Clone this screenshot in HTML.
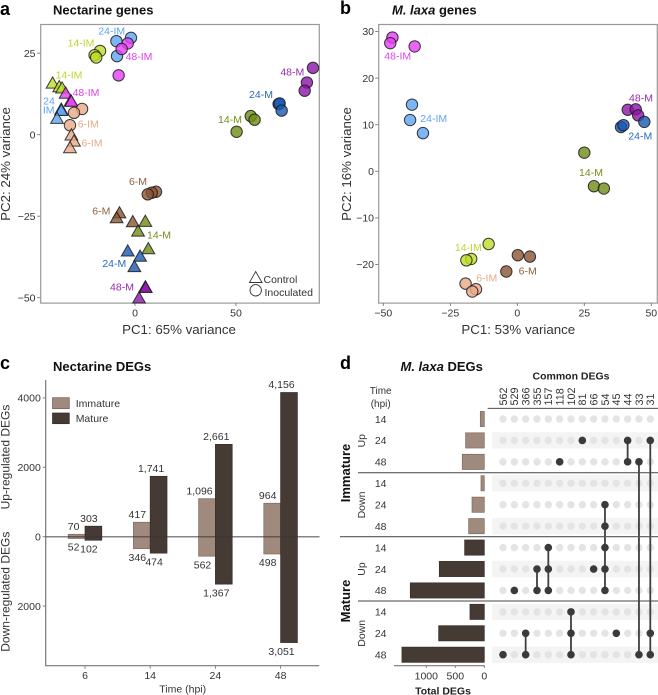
<!DOCTYPE html>
<html lang="en">
<head>
<meta charset="utf-8">
<title>Nectarine and M. laxa PCA and DEGs</title>
<style>
html,body{margin:0;padding:0;background:#fff;width:658px;height:695px;overflow:hidden}
svg{display:block;font-family:"Liberation Sans",Arial,sans-serif}
text{fill:#333;font-size:10.5px}
.c{text-anchor:middle}
.title{font-weight:bold;font-size:13px;fill:#111}
.letter{font-weight:bold;font-size:18px;fill:#000}
.axt{font-size:13.3px;text-anchor:middle;fill:#333}
</style>
</head>
<body>
<svg id="fig" xmlns="http://www.w3.org/2000/svg" width="658" height="695" viewBox="0 0 658 695">
  <text class="letter" x="0" y="15">a</text>
  <text class="letter" x="340" y="14">b</text>
  <text class="letter" x="0" y="369">c</text>
  <text class="letter" x="340" y="369">d</text>

  <text class="title" x="53" y="14.5">Nectarine genes</text>
  <text class="title" x="392" y="14.5"><tspan font-style="italic">M. laxa</tspan> genes</text>
  <text class="title" x="53" y="371">Nectarine DEGs</text>
  <text class="title" x="400.5" y="371"><tspan font-style="italic">M. laxa</tspan> DEGs</text>

  <rect x="40.7" y="24.5" width="278.6" height="278.6" fill="none" stroke="#999" stroke-width="1.2"/>
  <rect x="378.7" y="24.5" width="278.6" height="278.6" fill="none" stroke="#999" stroke-width="1.2"/>
  <g id="a"></g>
  <g id="b"></g>

  <text class="axt" x="179" y="334">PC1: 65% variance</text>
  <text class="axt" transform="translate(10,164) rotate(-90)">PC2: 24% variance</text>
  <text class="axt" x="518.3" y="334">PC1: 53% variance</text>
  <text class="axt" transform="translate(351,164) rotate(-90)">PC2: 16% variance</text>

  <g class="c">
    <text class="c" x="111.7" y="34.7" style="fill:#5ea3f5">24-IM</text>
    <text class="c" x="81" y="46.7" style="fill:#bcd82c">14-IM</text>
    <text class="c" x="139" y="60" style="fill:#e040f0">48-IM</text>
    <text class="c" x="69" y="78.4" style="fill:#bcd82c">14-IM</text>
    <text class="c" x="86" y="96" style="fill:#e040f0">48-IM</text>
    <text class="c" x="49" y="104.7" style="fill:#5ea3f5">24</text>
    <text class="c" x="48.7" y="113.7" style="fill:#5ea3f5">IM</text>
    <text class="c" x="88.3" y="127.4" style="fill:#e8a988">6-IM</text>
    <text class="c" x="92" y="146.7" style="fill:#e8a988">6-IM</text>
    <text class="c" x="230" y="123" style="fill:#73901a">14-M</text>
    <text class="c" x="261" y="98" style="fill:#2a68c0">24-M</text>
    <text class="c" x="292.3" y="75.7" style="fill:#9a28b4">48-M</text>
    <text class="c" x="138" y="185" style="fill:#93613f">6-M</text>
    <text class="c" x="101.3" y="214.4" style="fill:#93613f">6-M</text>
    <text class="c" x="159" y="238.7" style="fill:#73901a">14-M</text>
    <text class="c" x="114.3" y="267" style="fill:#2a68c0">24-M</text>
    <text class="c" x="122" y="290.4" style="fill:#9a28b4">48-M</text>
  </g>
  <g>
    <polygon points="255.7,271.5 249.5,282.5 262,282.5" fill="none" stroke="#333" stroke-width="0.9"/>
    <circle cx="255.7" cy="290.3" r="5.7" fill="none" stroke="#333" stroke-width="0.9"/>
    <text x="263.5" y="283">Control</text>
    <text x="264.5" y="296">Inoculated</text>
  </g>
  <g>
    <text class="c" x="397.7" y="59.7" style="fill:#e040f0">48-IM</text>
    <text class="c" x="433.7" y="122" style="fill:#5ea3f5">24-IM</text>
    <text class="c" x="641" y="101.7" style="fill:#9a28b4">48-M</text>
    <text class="c" x="640.3" y="139.7" style="fill:#2a68c0">24-M</text>
    <text class="c" x="591" y="176" style="fill:#73901a">14-M</text>
    <text class="c" x="468.3" y="251" style="fill:#bcd82c">14-IM</text>
    <text class="c" x="486.7" y="281.7" style="fill:#e8a988">6-IM</text>
    <text class="c" x="527.7" y="274.7" style="fill:#93613f">6-M</text>
  </g>

  <g id="c"></g>
  <g>
    <rect x="52.5" y="397.7" width="16.8" height="11" fill="#a08a7d" stroke="#6e5d52" stroke-width="0.7"/>
    <rect x="52.5" y="413" width="16.8" height="10.7" fill="#463b34" stroke="#332a25" stroke-width="0.7"/>
    <text x="75.7" y="407">Immature</text>
    <text x="75.7" y="422">Mature</text>
  </g>
  <text class="c" x="182.7" y="692.3">Time (hpi)</text>
  <text class="c" transform="translate(9.5,457) rotate(-90)" style="font-size:12px">Up-regulated DEGs</text>
  <text class="c" transform="translate(9.5,591.7) rotate(-90)" style="font-size:12px">Down-regulated DEGs</text>

  <g id="d"></g>
  <text class="c" x="571" y="379.5" style="font-weight:bold;font-size:10.5px;fill:#222">Common DEGs</text>
  <text class="c" x="380.7" y="394.2" style="font-size:10px">Time</text>
  <text class="c" x="380.7" y="406.8" style="font-size:10px">(hpi)</text>
  <text class="c" transform="translate(365.2,440.7) rotate(-90)">Up</text>
  <text class="c" transform="translate(365.2,505) rotate(-90)">Down</text>
  <text class="c" transform="translate(365.2,569) rotate(-90)">Up</text>
  <text class="c" transform="translate(365.2,633.3) rotate(-90)">Down</text>
  <text class="c" transform="translate(350,473) rotate(-90)" style="font-weight:bold;font-size:13px;fill:#111">Immature</text>
  <text class="c" transform="translate(350,601) rotate(-90)" style="font-weight:bold;font-size:13px;fill:#111">Mature</text>
  <text class="c" x="443" y="694.5" style="font-weight:bold;font-size:10.5px;fill:#222">Total DEGs</text>
</svg>

<script>
// ---- Panel a: nectarine PCA ----
const aGroups = ['24-IM','24-IM','24-IM','48-IM','48-IM','48-IM','14-IM','14-IM','14-IM','14-IM','14-IM','14-IM','48-IM','48-IM','48-IM','24-IM','24-IM','24-IM','6-IM','6-IM','6-IM','6-IM','6-IM','6-IM','14-M','14-M','14-M','24-M','24-M','24-M','48-M','48-M','48-M','6-M','6-M','6-M','6-M','6-M','6-M','14-M','14-M','14-M','24-M','24-M','24-M','48-M','48-M','48-M'];
const aTreatment = ['I','I','I','I','I','I','I','I','I','C','C','C','C','C','C','C','C','C','I','I','I','C','C','C','I','I','I','I','I','I','I','I','I','I','I','I','C','C','C','C','C','C','C','C','C','C','C','C'];
const aPC1 = [-9.2,-2,-8.9,-3.6,-6.6,-8.1,-17.3,-20,-19.2,-40.8,-37.5,-36.1,-34.3,-31.8,-31.5,-36.5,-36.5,-38.6,-26.2,-30.2,-32.2,-31.5,-30.2,-32.2,50.3,57.3,59.2,71.1,71.6,72.6,88.1,85.1,84,10.4,8.3,6.3,-7.7,-9.1,-1.1,5.1,1.5,6.6,-3.6,2.5,-0.3,5.1,5.3,2];
const aPC2 = [28.7,29.7,24.1,28,26.3,18.2,25.7,24.4,23.7,16,14.9,14.5,12.9,10.6,10.4,8,7.6,5.2,7.9,6.7,2.9,0.1,-1.8,-3.8,0.9,5.7,4.6,9.4,9.6,7.4,20.5,16,13.5,-17.5,-17.8,-18.3,-23.8,-25.3,-26.5,-26.4,-29.4,-34.8,-35.5,-37.1,-40.3,-46.5,-46.7,-49.9];
const aXTicks = [0,50];
const aYTicks = [25,0,-25,-50];

// ---- Panel b: M. laxa PCA ----
const bGroups = ['48-IM','48-IM','48-IM','24-IM','24-IM','24-IM','48-M','48-M','48-M','24-M','24-M','24-M','14-M','14-M','14-M','14-IM','14-IM','14-IM','6-M','6-M','6-M','6-IM','6-IM','6-IM'];
const bPC1 = [-46.6,-47.4,-38.3,-39.3,-40,-35.2,41.2,44.2,45.1,38.7,39.6,47.4,25,28.6,32.3,-10.7,-17.2,-19,0.2,4.7,-4.1,-19.3,-15.4,-16.8];
const bPC2 = [28.7,27.5,26.8,14.3,11,8.2,13.2,13.3,12,9.5,9.9,10.6,4,-3.2,-3.7,-15.6,-18.8,-19.1,-18,-18.3,-21.5,-24.1,-25.3,-25.8];
const bXTicks = [-50,-25,0,25,50];
const bYTicks = [30,20,10,0,-10,-20];

// ---- Panel c: nectarine DEG bars ----
const cTimes = ['6','14','24','48'];
const cImmatureUp = [70,417,1096,964];
const cMatureUp = [303,1741,2661,4156];
const cImmatureDown = [52,346,562,498];
const cMatureDown = [102,474,1367,3051];
const cYTicks = [4000,2000,0,-2000];

// ---- Panel d: M. laxa UpSet plot ----
const dRowTimes = ['14','24','48','14','24','48','14','24','48','14','24','48'];
const dRowTotals = [69,322,380,57,212,270,339,776,1276,247,787,1420];
const dCommon = [562,529,366,355,157,118,102,81,66,54,45,44,33,31];
const dSets = [[11],[8],[10,11],[7,8],[6,7,8],[2],[9,10,11],[1],[7],[4,5,6,7,8],[10],[1,2],[2,11],[1,10,11]];
const dTotalTicks = [1000,500,0];

const NS = 'http://www.w3.org/2000/svg';
const groupFill = {'24-IM':'#5ea3f5','48-IM':'#e33ff5','14-IM':'#bcdc28','6-IM':'#e8a988','6-M':'#8a5432','14-M':'#6f8c14','24-M':'#1858b0','48-M':'#8c14a8'};
function make(tag, attrs, parent){
  const n = document.createElementNS(NS, tag);
  for (const k in attrs) n.setAttribute(k, attrs[k]);
  parent.appendChild(n);
  return n;
}
function fmt(v){ return String(v).replace('-', '\u2212'); }
function groupSlug(s){ return s.toLowerCase(); }

function drawPca(root, prefix, groups, treatments, xs, ys, sx, sy, xTicks, yTicks, yLabelX, tickLeft){
  xTicks.forEach(function(t){
    const tk = make('line',{x1:sx(t),x2:sx(t),y1:303.1,y2:306,stroke:'#777','stroke-width':0.9},root);
    
    
    const lb = make('text',{x:sx(t),y:316.5,'text-anchor':'middle'},root);
    lb.textContent = fmt(t);
    
    
  });
  yTicks.forEach(function(t){
    const tk = make('line',{x1:tickLeft-3,x2:tickLeft,y1:sy(t),y2:sy(t),stroke:'#777','stroke-width':0.9},root);
    
    
    const lb = make('text',{x:yLabelX,y:sy(t)+3.7,'text-anchor':'end'},root);
    lb.textContent = fmt(t);
    
    
  });
  groups.forEach(function(g,i){
    const x = sx(xs[i]), y = sy(ys[i]);
    const style = {fill:groupFill[g],'fill-opacity':0.8,stroke:'#1a1a1a','stroke-opacity':0.85,'stroke-width':1};
    let m;
    if (treatments && treatments[i] === 'C') {
      style.points = x+','+(y-5.6)+' '+(x-6.4)+','+(y+5.6)+' '+(x+6.4)+','+(y+5.6);
      m = make('polygon',style,root);
    } else {
      style.cx = x; style.cy = y; style.r = 5.7;
      m = make('circle',style,root);
    }
    
    
  });
}

const aX = function(v){ return 135 + v*2.02; };
const aY = function(v){ return 134.7 - v*3.26; };
drawPca(document.getElementById('a'),'panel-a',aGroups,aTreatment,aPC1,aPC2,aX,aY,aXTicks,aYTicks,35.5,40.2);

const bX = function(v){ return 517.3 + v*2.68; };
const bY = function(v){ return 171.3 - v*4.66; };
drawPca(document.getElementById('b'),'panel-b',bGroups,null,bPC1,bPC2,bX,bY,bXTicks,bYTicks,374,378.2);

// Panel c
(function(){
  const root = document.getElementById('c');
  const y = function(v){ return 536.7 - v*0.0347; };
  const band = function(i){ return 85 + i*65.2; };
  const w = 16.8;
  const ax1 = make('line',{x1:45.7,x2:45.7,y1:380,y2:665.7,stroke:'#777','stroke-width':1.2},root);
  
  
  const ax2 = make('line',{x1:45.1,x2:319.3,y1:665.7,y2:665.7,stroke:'#777','stroke-width':1.2},root);
  
  
  cYTicks.forEach(function(t){
    const tk = make('line',{x1:42.7,x2:45.7,y1:y(t),y2:y(t),stroke:'#777','stroke-width':0.9},root);
    
    
    const lb = make('text',{x:40.8,y:y(t)+3.8,'text-anchor':'end'},root);
    lb.textContent = String(Math.abs(t));
    
    
  });
  function bar(x, top, bottom, fill, stroke, name){
    const r = make('rect',{x:x,y:top,width:w,height:bottom-top,fill:fill,stroke:stroke,'stroke-width':0.7},root);
    
    
  }
  function valueLabel(v, cx, yEnd, up, name){
    const s = v.toLocaleString('en-US');
    const lb = make('text',{x:cx - 1.5*s.length, y:yEnd + (up ? -8 : 8.5) + 3.7,'text-anchor':'middle'},root);
    lb.textContent = s;
    
    
  }
  cTimes.forEach(function(t,i){
    const c = band(i);
    const tk = make('line',{x1:c,x2:c,y1:665.7,y2:668.7,stroke:'#777','stroke-width':0.9},root);
    
    
    const lb = make('text',{x:c,y:679,'text-anchor':'middle'},root);
    lb.textContent = t;
    
    
    bar(c-w, y(cImmatureUp[i]), y(-cImmatureDown[i]), '#a08a7d', '#7d6b60', 'bar-immature-' + t + 'h');
    bar(c, y(cMatureUp[i]), y(-cMatureDown[i]), '#463b34', '#372e29', 'bar-mature-' + t + 'h');
    valueLabel(cImmatureUp[i], c-w/2, y(cImmatureUp[i]), true, 'value-immature-up-' + t + 'h');
    valueLabel(cMatureUp[i], c+w/2, y(cMatureUp[i]), true, 'value-mature-up-' + t + 'h');
    valueLabel(cImmatureDown[i], c-w/2, y(-cImmatureDown[i]), false, 'value-immature-down-' + t + 'h');
    valueLabel(cMatureDown[i], c+w/2, y(-cMatureDown[i]), false, 'value-mature-down-' + t + 'h');
  });
  const zero = make('line',{x1:45.7,x2:319.5,y1:y(0),y2:y(0),stroke:'#333','stroke-opacity':0.6,'stroke-width':1.5},root);
  
  
})();

// Panel d
(function(){
  const root = document.getElementById('d');
  const rowY = function(r){ return 419 + r*21.43; };
  const colX = function(c){ return 503 + c*11.33; };
  const barX = function(v){ return 484.3 - v*0.058; };
  dRowTimes.forEach(function(t,r){
    if (r % 2 === 1) {
      const st = make('rect',{x:492,y:rowY(r)-8.2,width:166,height:16.4,fill:'#f4f4f4'},root);
      
      
    }
  });
  const hdr = make('line',{x1:487.7,x2:658,y1:408.3,y2:408.3,stroke:'#333','stroke-width':0.9},root);
  
  
  dCommon.forEach(function(v,c){
    const lb = make('text',{transform:'translate('+(colX(c)+3.8)+',405.5) rotate(-90)',style:'font-size:10.8px'},root);
    lb.textContent = String(v);
    
    
  });
  dRowTimes.forEach(function(t,r){
    const lb = make('text',{x:380.7,y:rowY(r)+3.8,'text-anchor':'middle'},root);
    lb.textContent = t;
    
    
    const b = make('rect',{x:barX(dRowTotals[r]),y:rowY(r)-7.6,width:484.3-barX(dRowTotals[r]),height:15.2,fill:r<6?'#a08a7d':'#463b34',stroke:r<6?'#7d6b60':'#372e29','stroke-width':0.7},root);
    
    
    dCommon.forEach(function(v,c){
      const dot = make('circle',{cx:colX(c),cy:rowY(r),r:3.7,fill:'#e4e4e4'},root);
      
      
    });
  });
  dSets.forEach(function(rows,c){
    const lo = Math.min.apply(null,rows), hi = Math.max.apply(null,rows);
    if (hi > lo) {
      const ln = make('line',{x1:colX(c),x2:colX(c),y1:rowY(lo),y2:rowY(hi),stroke:'#3f3f3f','stroke-width':1.8},root);
      
      
    }
    rows.forEach(function(r){
      const dot = make('circle',{cx:colX(c),cy:rowY(r),r:3.8,fill:'#3a3a3a'},root);
      
      
    });
  });
  const d1 = make('line',{x1:358,x2:658,y1:472.7,y2:472.7,stroke:'#444','stroke-width':1},root);
  
  
  const d2 = make('line',{x1:340,x2:658,y1:536.7,y2:536.7,stroke:'#555','stroke-width':1.2},root);
  
  
  const d3 = make('line',{x1:358,x2:658,y1:601,y2:601,stroke:'#444','stroke-width':1},root);
  
  
  const ax = make('line',{x1:394,x2:484.8,y1:665.7,y2:665.7,stroke:'#777','stroke-width':1.1},root);
  
  
  dTotalTicks.forEach(function(t){
    const tk = make('line',{x1:barX(t),x2:barX(t),y1:665.7,y2:668,stroke:'#777','stroke-width':0.9},root);
    
    
    const lb = make('text',{x:barX(t),y:679.5,'text-anchor':'middle'},root);
    lb.textContent = String(t);
    
    
  });
})();
</script>
</body>
</html>
